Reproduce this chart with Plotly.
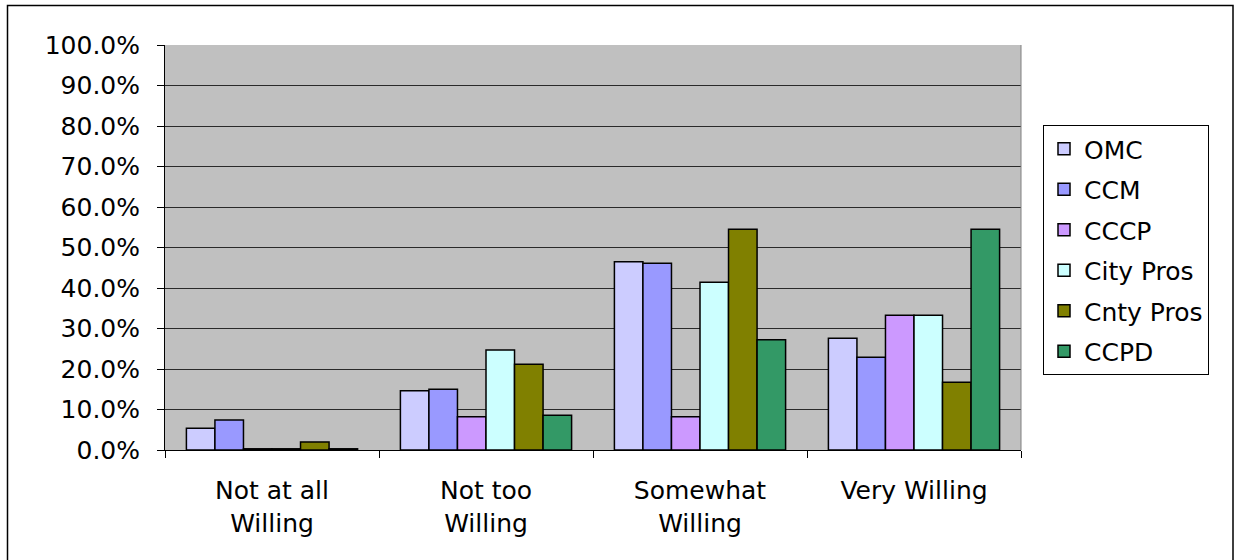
import plotly.graph_objects as go

categories = ["Not at all<br>Willing", "Not too<br>Willing", "Somewhat<br>Willing", "Very Willing"]
series_names = ["OMC", "CCM", "CCCP", "City Pros", "Cnty Pros", "CCPD"]
omc = [5.4, 14.6, 46.5, 27.6]
ccm = [7.4, 15.0, 46.1, 22.9]
cccp = [0.3, 8.2, 8.2, 33.3]
city_pros = [0.3, 24.7, 41.4, 33.3]
cnty_pros = [2.0, 21.2, 54.5, 16.7]
ccpd = [0.3, 8.6, 27.2, 54.5]
values = [omc, ccm, cccp, city_pros, cnty_pros, ccpd]
colors = ["#CCCCFF", "#9999FF", "#CC99FF", "#CCFFFF", "#808000", "#339966"]
y_ticks = [0, 10, 20, 30, 40, 50, 60, 70, 80, 90, 100]
y_tick_labels = [f"{v:.1f}%" for v in y_ticks]

FONT = "DejaVu Sans, Arial, sans-serif"

fig = go.Figure()
for name, vals, col in zip(series_names, values, colors):
    fig.add_trace(go.Bar(
        x=categories, y=vals, name=name, legendgroup=name,
        marker=dict(color=col, line=dict(color="black", width=1.5)),
    ))

W, H = 1235, 560
L, R, T, B = 165, 1021, 45, 450
pw, ph = R - L, B - T

def px_x(x):
    return (x - L) / pw

def px_y(y):
    return (B - y) / ph

fig.update_layout(
    width=W, height=H,
    margin=dict(l=L, r=W - R, t=T, b=H - B),
    paper_bgcolor="white",
    plot_bgcolor="#C0C0C0",
    barmode="group", bargap=0.2, bargroupgap=0,
    font=dict(family=FONT, size=25, color="black"),
    legend=dict(
        x=px_x(1043), y=px_y(125), xanchor="left", yanchor="top",
        bgcolor="white", bordercolor="black", borderwidth=1,
        font=dict(size=25), tracegroupgap=5, traceorder="grouped",
        itemwidth=30,
    ),
    showlegend=True,
)
fig.update_yaxes(
    range=[0, 100], tickvals=y_ticks, ticktext=y_tick_labels,
    showgrid=True, gridcolor="#2a2a2a", gridwidth=1,
    showline=True, linecolor="black", linewidth=1,
    ticks="outside", ticklen=7, tickcolor="black",
    tickfont=dict(size=25), ticklabelstandoff=12, zeroline=False,
)
fig.update_xaxes(
    showline=True, linecolor="black", linewidth=1,
    ticks="outside", ticklen=7, tickcolor="black", tickson="boundaries",
    tickfont=dict(size=25), ticklabelstandoff=18,
)
# plot area right border
fig.add_shape(type="line", xref="paper", yref="paper", x0=1, x1=1, y0=0, y1=1,
              line=dict(color="#808080", width=1))
# outer chart border
fig.add_shape(type="rect", xref="paper", yref="paper",
              x0=px_x(7.5), x1=px_x(1233), y0=px_y(575), y1=px_y(5.5),
              line=dict(color="black", width=1.5), layer="below")

fig.write_html("out.html", config={"displayModeBar": False},
               post_script="document.body.style.margin='0';")
